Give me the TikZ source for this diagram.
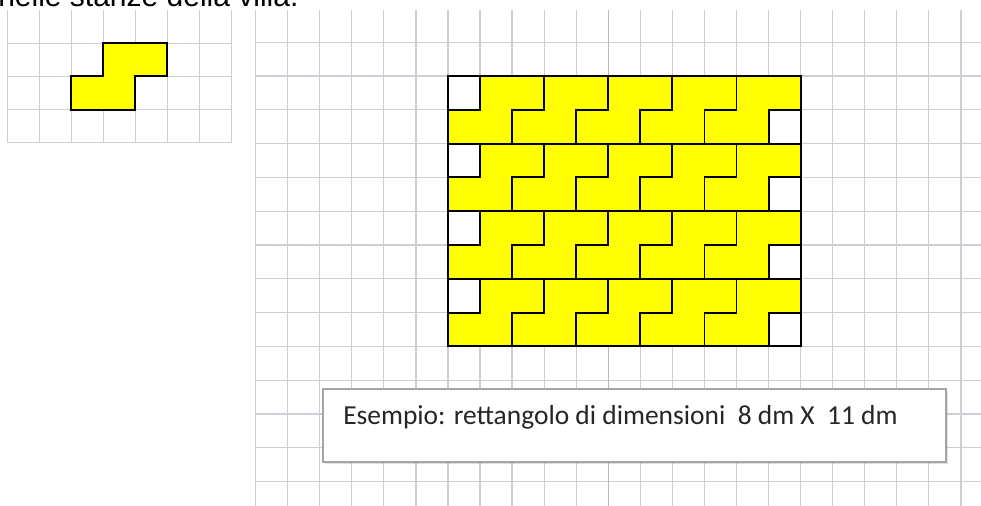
\documentclass[tikz,border=0pt]{standalone}
\usepackage{fontspec}
\setmainfont{Liberation Sans}
\newfontfamily\notefont{Carlito}
\usetikzlibrary{shadows}
\definecolor{gridgray}{RGB}{204,208,213}
\definecolor{pagegray}{RGB}{180,185,191}
\definecolor{tileyellow}{RGB}{255,255,0}
\definecolor{boxgray}{RGB}{165,165,165}
\tikzset{
  gridline/.style = {draw=gridgray, line width=0.9pt},
  breakline/.style = {draw=pagegray, line width=0.9pt},
  tile/.style = {fill=tileyellow, draw=black, line width=1.4pt},
  notebox/.style = {shape=rectangle, draw=boxgray, line width=1.5pt,
                    fill=white, minimum width=467pt, minimum height=55pt,
                    drop shadow={opacity=0.25, shadow xshift=1.5pt, shadow yshift=-1.5pt}},
  notetext/.style = {font=\notefont\fontsize{20.6}{24}\selectfont,
                     text=black!85, inner sep=0pt}
}

\begin{document}
\begin{tikzpicture}[x=0.75pt, y=-0.75pt]
  \useasboundingbox (0,0) rectangle (981,506);
  \clip (0,0) rectangle (981,506);
  \fill[white] (0,0) rectangle (981,506);
  % riga di testo tagliata in alto
  \node[anchor=base west, inner sep=0pt, font=\fontsize{22.5}{27}\selectfont] (title) at (-2,7) {nelle stanze della villa.};

  % griglia piccola con il pezzo
  \begin{scope}[shift={(7.3,10)}, xscale=32, yscale=33.2]
    \foreach \i in {0,...,7} \draw[gridline] (\i,0) -- (\i,4);
    \foreach \j in {1,...,4} \draw[gridline] (0,\j) -- (7,\j);
    \draw[tile] (3,1) -- (5,1) -- (5,2) -- (4,2) -- (4,3) -- (2,3) -- (2,2) -- (3,2) -- cycle;
  \end{scope}

  % griglia grande con il rettangolo 11 x 8
  \begin{scope}[shift={(255.6,8.4)}, xscale=32.06, yscale=33.8]
    \foreach \i in {0,...,22} \draw[gridline] (\i,0.05) -- (\i,14.8);
    \foreach \j in {1,...,14} \draw[gridline] (0,\j) -- (22.7,\j);
    \draw[breakline] (11,0.05) -- (11,14.8);
    \fill[white] (6,2) rectangle (17,10);
    \foreach \r in {2,4,6,8}
      \foreach \c in {7,9,11,13,15}
        \draw[tile] (\c,\r) -- ++(2,0) -- ++(0,1) -- ++(-1,0) -- ++(0,1) -- ++(-2,0) -- ++(0,-1) -- ++(1,0) -- cycle;
    \draw[line width=1.4pt] (6,2) rectangle (17,10);
  \end{scope}

  \node[notebox] (note) at (634.5,425.5) {};
  \node[notetext, anchor=base west] (notelabel) at (343,424) {Esempio: rettangolo di dimensioni~~8 dm X~~11 dm};
\end{tikzpicture}
\end{document}
